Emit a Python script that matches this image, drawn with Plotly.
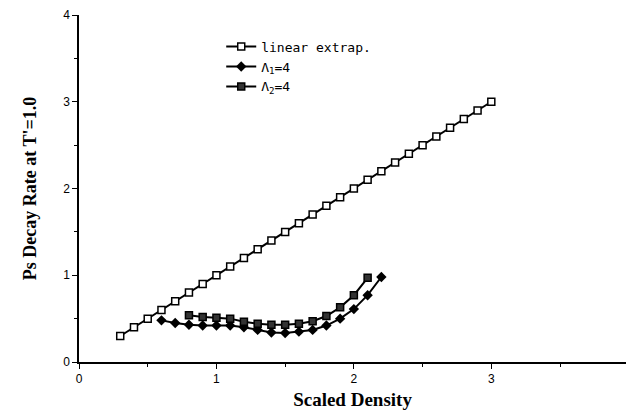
import plotly.graph_objects as go

# Data
lin_x = [0.3, 0.4, 0.5, 0.6, 0.7, 0.8, 0.9, 1.0, 1.1, 1.2, 1.3, 1.4, 1.5, 1.6,
         1.7, 1.8, 1.9, 2.0, 2.1, 2.2, 2.3, 2.4, 2.5, 2.6, 2.7, 2.8, 2.9, 3.0]
lin_y = [0.3, 0.4, 0.5, 0.6, 0.7, 0.8, 0.9, 1.0, 1.1, 1.2, 1.3, 1.4, 1.5, 1.6,
         1.7, 1.8, 1.9, 2.0, 2.1, 2.2, 2.3, 2.4, 2.5, 2.6, 2.7, 2.8, 2.9, 3.0]

l1_x = [0.6, 0.7, 0.8, 0.9, 1.0, 1.1, 1.2, 1.3, 1.4, 1.5, 1.6, 1.7, 1.8, 1.9, 2.0, 2.1, 2.2]
l1_y = [0.48, 0.45, 0.43, 0.42, 0.42, 0.42, 0.40, 0.37, 0.34, 0.335, 0.35, 0.37, 0.42, 0.50, 0.61, 0.77, 0.98]

l2_x = [0.8, 0.9, 1.0, 1.1, 1.2, 1.3, 1.4, 1.5, 1.6, 1.7, 1.8, 1.9, 2.0, 2.1]
l2_y = [0.54, 0.52, 0.51, 0.50, 0.465, 0.44, 0.43, 0.43, 0.44, 0.47, 0.53, 0.63, 0.77, 0.97]

x_ticks = [0, 1, 2, 3]
y_ticks = [0, 1, 2, 3, 4]

fig = go.Figure()
fig.add_trace(go.Scatter(
    x=lin_x, y=lin_y, mode="lines+markers", name="linear extrap.",
    line=dict(color="black", width=2),
    marker=dict(symbol="square", size=7, color="white", line=dict(color="black", width=1.5)),
))
fig.add_trace(go.Scatter(
    x=l1_x, y=l1_y, mode="lines+markers", name="Λ<sub>1</sub>=4",
    line=dict(color="black", width=2),
    marker=dict(symbol="diamond", size=8, color="black"),
))
fig.add_trace(go.Scatter(
    x=l2_x, y=l2_y, mode="lines+markers", name="Λ<sub>2</sub>=4",
    line=dict(color="black", width=2),
    marker=dict(symbol="square", size=7, color="#333", line=dict(color="black", width=1.5)),
))

axis_common = dict(
    showline=True, linecolor="black", linewidth=1.5,
    ticks="outside", ticklen=5, tickcolor="black", tickwidth=1.2,
    showgrid=False, zeroline=False,
    tickfont=dict(family="Liberation Sans, Arial", size=12, color="black"),
    minor=dict(ticks="outside", ticklen=3, dtick=0.5, tickcolor="black", showgrid=False),
)

fig.update_layout(
    width=626, height=410,
    margin=dict(l=79, r=0, t=15, b=48),
    plot_bgcolor="white", paper_bgcolor="white",
    xaxis=dict(range=[0, 3.98], tickvals=x_ticks,
               title=dict(text="<b>Scaled Density</b>", standoff=8,
                          font=dict(family="Liberation Serif, Times New Roman", size=19, color="black")),
               **axis_common),
    yaxis=dict(range=[0, 4], tickvals=y_ticks,
               title=dict(text="<b>Ps Decay Rate at T'=1.0</b>", standoff=22,
                          font=dict(family="Liberation Serif, Times New Roman", size=18, color="black")),
               **axis_common),
    legend=dict(x=0.26, y=0.952, xanchor="left", yanchor="top",
                bgcolor="rgba(0,0,0,0)", tracegroupgap=0, itemwidth=30,
                font=dict(family="DejaVu Sans Mono", size=13, color="black")),
    showlegend=True,
)

fig.write_html("out.html")
